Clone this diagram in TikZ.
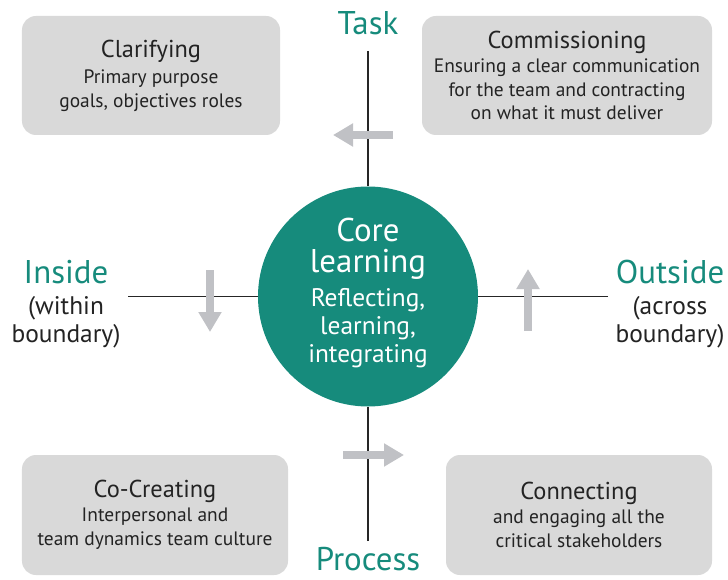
\documentclass[tikz,border=0pt]{standalone}
\usepackage{fontspec}
\setmainfont{PT Sans}
\usetikzlibrary{arrows.meta}
\usetikzlibrary{positioning}
\definecolor{coreteal}{RGB}{22,139,124}
\definecolor{boxgray}{RGB}{217,217,217}
\definecolor{arrowgray}{RGB}{192,193,197}
\definecolor{inkgray}{RGB}{35,35,35}
\tikzset{quad/.style={fill=boxgray, rounded corners=14bp, align=center, inner sep=0pt, text=inkgray, font=\fontsize{19.5}{24}\selectfont},
  axislabel/.style={text=coreteal, font=\fontsize{33}{36}\selectfont},
  sidenote/.style={align=center, text=inkgray, font=\fontsize{25.5}{28}\selectfont},
  fatarrow/.style={-{Triangle[length=20bp,width=22bp]}, line width=7.5bp, draw=arrowgray},
  axisline/.style={draw=black!85, line width=1.1bp}}
\newcommand{\quadtitle}[1]{{\fontsize{24.5}{24}\selectfont #1}}

\begin{document}
\begin{tikzpicture}[x=1bp,y=-1bp]
\useasboundingbox (0,0) rectangle (728,580);
%%
\node (clar) at (151.0,75.5) [quad, minimum width=258bp, minimum height=119bp] {\quadtitle{Clarifying}\\[2bp]Primary purpose\\goals, objectives roles};
  \node (comm) at (567.0,75.5) [quad, minimum width=290bp, minimum height=119bp] {\quadtitle{Commissioning}\\Ensuring a clear communication\\for the team and contracting\\on what it must deliver};
  \node (cocr) at (155.0,515.0) [quad, minimum width=266bp, minimum height=120bp] {\quadtitle{Co-Creating}\\Interpersonal and\\team dynamics team culture};
  \node (conn) at (579.0,515.0) [quad, minimum width=266bp, minimum height=120bp] {\quadtitle{Connecting}\\and engaging all the\\critical stakeholders};
  \node (core) at (368.0,296.5) [circle, fill=coreteal, minimum size=220bp, inner sep=0pt] {};
  \node (coretxt) at (368.0,293.0) [text=white, align=center, font=\fontsize{25.5}{28}\selectfont] {{\fontsize{33}{36}\selectfont Core}\\[3bp]{\fontsize{33}{36}\selectfont learning}\\[6bp]Reflecting,\\learning,\\integrating};
  \node (task) at (368.0,23.0) [axislabel] {Task};
  \node (proc) at (368.0,559.0) [axislabel, inner sep=1bp] {Process};
  \node (ins) at (66.0,272.0) [axislabel] {Inside};
  \node (insnote) at (66.0,322.0) [sidenote] {(within\\boundary)};
  \node (outs) at (670.0,272.0) [axislabel] {Outside};
  \node (outsnote) at (670.0,322.0) [sidenote] {(across\\boundary)};
  \coordinate (topend) at (368.0,51.0);
  \coordinate (botend) at (368.0,541.0);
  \coordinate (leftend) at (128.0,296.5);
  \coordinate (rightend) at (608.0,296.5);
  \draw [axisline] (topend) -- (core);
  \draw [axisline] (botend) -- (core);
  \draw [axisline] (leftend) -- (core);
  \draw [axisline] (rightend) -- (core);
%
  \coordinate (tl_tail) at (393.0,135.0);
  \coordinate (tl_tip) at (333.0,135.0);
  \coordinate (lf_tail) at (210.0,270.0);
  \coordinate (lf_tip) at (210.0,332.0);
  \coordinate (rt_tail) at (528.0,331.0);
  \coordinate (rt_tip) at (528.0,269.0);
  \coordinate (bt_tail) at (343.0,455.0);
  \coordinate (bt_tip) at (404.0,455.0);
  \draw [fatarrow] (tl_tail) -- (tl_tip);
  \draw [fatarrow] (lf_tail) -- (lf_tip);
  \draw [fatarrow] (rt_tail) -- (rt_tip);
  \draw [fatarrow] (bt_tail) -- (bt_tip);
%
\end{tikzpicture}
\end{document}
